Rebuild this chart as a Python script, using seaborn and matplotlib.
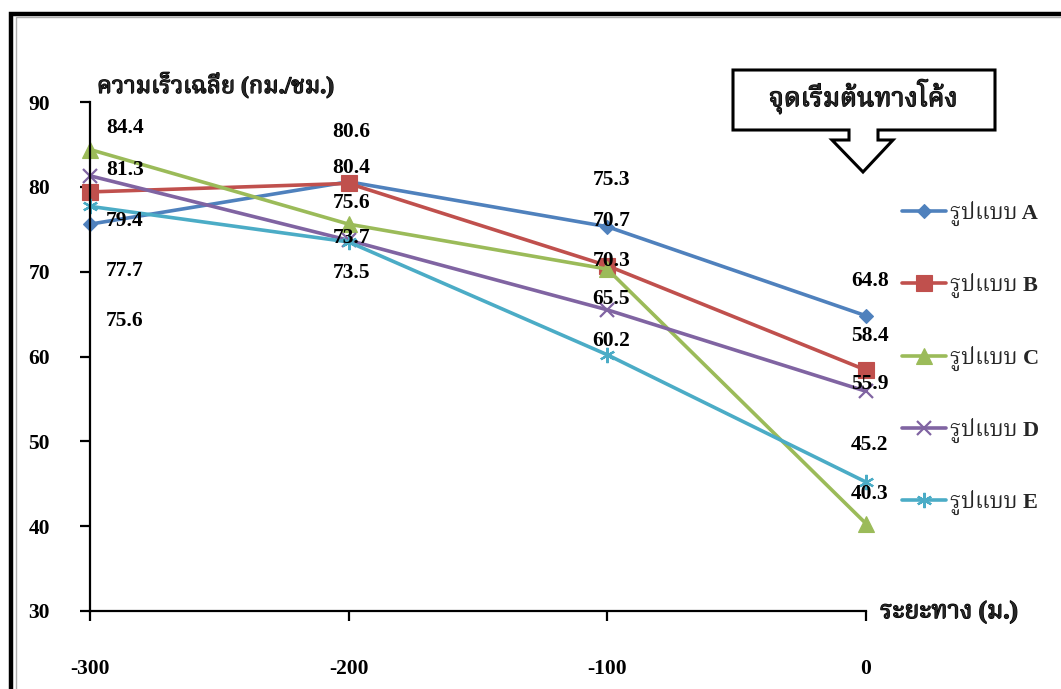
import numpy as np
import pandas as pd
import seaborn as sns
import matplotlib
matplotlib.use("Agg")
import matplotlib.pyplot as plt
from matplotlib import font_manager, ft2font
from matplotlib import patheffects
from matplotlib.patches import Polygon, Rectangle
from matplotlib.lines import Line2D

# ---- data -------------------------------------------------------------
distance = [-300, -200, -100, 0]
series_names = ["รูปแบบ A", "รูปแบบ B", "รูปแบบ C", "รูปแบบ D", "รูปแบบ E"]
speed_a = [75.6, 80.6, 75.3, 64.8]
speed_b = [79.4, 80.4, 70.7, 58.4]
speed_c = [84.4, 75.6, 70.3, 40.3]
speed_d = [81.3, 73.7, 65.5, 55.9]
speed_e = [77.7, 73.5, 60.2, 45.2]
y_ticks = [30, 40, 50, 60, 70, 80, 90]
x_ticks = [-300, -200, -100, 0]
y_title = "ความเร็วเฉลี่ย (กม./ชม.)"
x_title = "ระยะทาง (ม.)"
callout_text = "จุดเริ่มต้นทางโค้ง"

# ---- styling ----------------------------------------------------------
colors = ["#4F81BD", "#C0504D", "#9BBB59", "#8064A2", "#4BACC6"]
markers = ["D", "s", "^", "x", (6, 2, 0)]
marker_sizes = [7, 11, 11, 10, 11]

# value-label rows (data units) for each distance, highest value on top
label_x = {-300: -286.5, -200: -199, -100: -98.4, 0: 1.5}
label_rows = {
    -300: [86.9, 82.0, 76.0, 70.1, 64.2],
    -200: [86.5, 82.2, 78.1, 74.0, 69.8],
    -100: [80.8, 76.0, 71.3, 66.8, 61.8],
    0: [68.9, 62.4, 56.7, 49.6, 43.8],
}


def thai_families():
    found = []
    for f in font_manager.fontManager.ttflist:
        try:
            cmap = ft2font.FT2Font(f.fname).get_charmap()
        except Exception:
            continue
        if 0x0E01 in cmap and f.name not in found:
            found.append(f.name)
    found.sort(key=lambda n: (0 if "Serif" in n else 1, 0 if "Thai" in n else 1))
    return found


sns.set_style("white")
thai = thai_families()
FAMILY = ["Liberation Serif"] + thai + ["DejaVu Sans"]
plt.rcParams["font.family"] = FAMILY
plt.rcParams["font.weight"] = "bold"
plt.rcParams["axes.unicode_minus"] = False

# thicker strokes for the Thai captions
heavy = [patheffects.withStroke(linewidth=0.9, foreground="black")]

W, H = 1061, 689
fig = plt.figure(figsize=(W / 100, H / 100), dpi=100)
fig.patch.set_facecolor("white")
ax = fig.add_axes([90 / W, 1 - 611 / H, (866 - 90) / W, (611 - 102) / H])
ax.set_facecolor("none")

all_series = [speed_a, speed_b, speed_c, speed_d, speed_e]
frame = pd.DataFrame({"distance": distance * len(all_series),
                      "speed": sum(all_series, []),
                      "series": np.repeat(series_names, len(distance))})

for name, col, mk, ms in zip(series_names, colors, markers, marker_sizes):
    sub = frame[frame["series"] == name]
    sns.lineplot(data=sub, x="distance", y="speed", ax=ax, color=col,
                 marker=mk, markersize=ms, linewidth=2.6,
                 markeredgecolor=col, markeredgewidth=1.6 if mk in ("x", (6, 2, 0)) else 0.8,
                 label=name, clip_on=False, legend=False)

ax.set_xlim(-300, 0)
ax.set_ylim(30, 90)
ax.set_xticks(x_ticks)
ax.set_yticks(y_ticks)
ax.set_xlabel("")
ax.set_ylabel("")
for side in ("top", "right"):
    ax.spines[side].set_visible(False)
for side in ("left", "bottom"):
    ax.spines[side].set_linewidth(1.6)
    ax.spines[side].set_color("black")
ax.tick_params(axis="y", left=True, direction="out", length=7.5, width=1.6,
               pad=29, labelsize=15.5, colors="black")
ax.tick_params(axis="x", bottom=True, direction="out", length=7.5, width=1.6,
               pad=27, labelsize=15.5, colors="black")
for lab in ax.get_xticklabels() + ax.get_yticklabels():
    lab.set_fontweight("bold")
for lab in ax.get_yticklabels():
    lab.set_horizontalalignment("center")

# value labels, stacked in descending order at each distance
for i, x in enumerate(distance):
    vals = [s[i] for s in all_series]
    order = sorted(range(len(vals)), key=lambda k: -vals[k])
    for rank, k in enumerate(order):
        ax.text(label_x[x], label_rows[x][rank], f"{vals[k]:.1f}",
                ha="center", va="center", fontsize=15.5, fontweight="bold",
                color="black", clip_on=False)

# axis titles
fig.text(97 / W, 1 - 85 / H, y_title, ha="left", va="center",
         fontsize=17, fontweight="bold", family=FAMILY, path_effects=heavy)
fig.text(880 / W, 1 - 612 / H, x_title, ha="left", va="center",
         fontsize=18, fontweight="bold", family=FAMILY, path_effects=heavy)

# legend
handles = [Line2D([], [], color=c, marker=m, markersize=ms, linewidth=2.6,
                  markeredgecolor=c,
                  markeredgewidth=1.6 if m in ("x", (6, 2, 0)) else 0.8)
           for c, m, ms in zip(colors, markers, marker_sizes)]
leg = fig.legend(handles, series_names, loc="upper left",
                 bbox_to_anchor=(902 / W, 1 - 201 / H), frameon=False,
                 prop={"family": FAMILY, "size": 16, "weight": "bold"},
                 handlelength=2.0, handletextpad=0.15, labelspacing=2.12,
                 borderpad=0, borderaxespad=0)

# callout box with a downward arrow
pts = [(733, 70), (995, 70), (995, 130), (878, 130), (878, 140), (893, 140),
       (863, 172), (832, 140), (849, 140), (849, 130), (733, 130)]
callout = Polygon([(x / W, 1 - y / H) for x, y in pts], closed=True,
                  transform=fig.transFigure, facecolor="white",
                  edgecolor="black", linewidth=2.2, joinstyle="miter")
fig.add_artist(callout)
fig.text(863 / W, 1 - 97 / H, callout_text, ha="center", va="center",
         fontsize=19, fontweight="bold", family=FAMILY, path_effects=heavy)

# outer frame
fig.add_artist(Rectangle((10.5 / W, -0.1), 1.2, 1 - 13.5 / H + 0.1,
                         transform=fig.transFigure, fill=False,
                         edgecolor="black", linewidth=3.2))
fig.add_artist(Rectangle((15.5 / W, -0.1), 1.2, 1 - 17.5 / H + 0.1,
                         transform=fig.transFigure, fill=False,
                         edgecolor="#b0b0b0", linewidth=1.0))

fig.savefig("out.png", dpi=100, facecolor="white")
